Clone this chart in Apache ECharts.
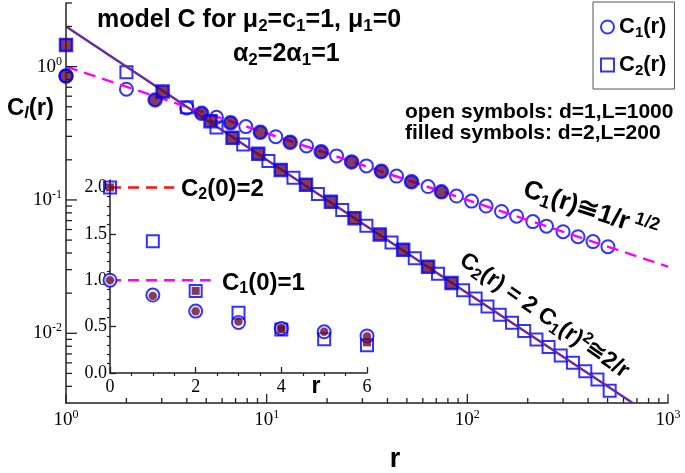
<!DOCTYPE html>
<html><head><meta charset="utf-8">
<script src="https://cdn.jsdelivr.net/npm/echarts@6/dist/echarts.min.js"></script>
<style>html,body{margin:0;padding:0;background:#fff}#c{width:685px;height:473px}</style>
</head><body><div id="c"></div>
<script>
// ---------------- data ----------------
// main plot axis limits and ticks
const xMin = 1, xMax = 1000, yMin = 0.003, yMax = 3;
const xMajorTicks = [1, 10, 100, 1000];
const xMinorTicks = [2,3,4,5,6,7,8,9,20,30,40,50,60,70,80,90,200,300,400,500,600,700,800,900];
const yMajorTicks = [0.01, 0.1, 1];
const yMinorTicks = [0.004,0.005,0.006,0.007,0.008,0.009,0.02,0.03,0.04,0.05,0.06,0.07,0.08,0.09,0.2,0.3,0.4,0.5,0.6,0.7,0.8,0.9,2,3];

// open circles: C1(r), d=1, L=1000
const c1OpenR = [1, 2, 4, 5.62, 7.87, 11.1, 15.8, 22.3, 31.4, 44.4, 63.7, 88.3, 105, 124, 148, 176, 212, 248, 300, 356, 423, 502];
const c1OpenC = [0.85, 0.677, 0.49, 0.417, 0.355, 0.298, 0.254, 0.214, 0.18, 0.151, 0.126, 0.107, 0.098, 0.090, 0.082, 0.0755, 0.0688, 0.0636, 0.0578, 0.053, 0.0487, 0.0446];
// filled circles: C1(r), d=2, L=200
const c1FillR = [1, 2.78, 4.74, 6.61, 9.3, 13.1, 18.7, 26.5, 37.3, 52.7, 74.3];
const c1FillC = [0.85, 0.563, 0.447, 0.38, 0.322, 0.271, 0.23, 0.193, 0.164, 0.137, 0.115];
// open squares: C2(r), d=1, L=1000
const c2OpenR = [2, 4, 5.62, 7.64, 10.2, 13.6, 18.0, 23.8, 31.4, 41.9, 54.7, 71.4, 95.3, 110, 126, 145, 167, 192, 221, 254, 292, 336, 387, 445, 512];
const c2OpenC = [0.908, 0.496, 0.35, 0.26, 0.196, 0.147, 0.111, 0.084, 0.064, 0.048, 0.0366, 0.028, 0.021, 0.0182, 0.0159, 0.0138, 0.012, 0.0104, 0.009, 0.0079, 0.0068, 0.006, 0.0052, 0.0045, 0.0037];
// filled squares: C2(r), d=2, L=200
const c2FillR = [1, 3.03, 5.25, 6.76, 9.08, 11.75, 15.7, 20.9, 27.4, 36.6, 47.9, 63.7, 83.4];
const c2FillC = [1.455, 0.65, 0.39, 0.293, 0.222, 0.168, 0.13, 0.097, 0.073, 0.055, 0.0423, 0.0316, 0.0238];
// guide lines (end points)
const fit1R = [1, 1000];  const fit1C = [1, 0.0316];   // C1 ~ 1/r^(1/2)
const fit2R = [1, 667];   const fit2C = [2, 0.003];    // C2 ~ 2/r

// inset (linear axes)
const insetXMax = 6, insetYMax = 2.08;
const insetXMajor = [0, 2, 4, 6];
const insetXMinor = [0.5,1,1.5,2.5,3,3.5,4.5,5,5.5];
const insetYMajor = [0, 0.5, 1, 1.5, 2];
const insetYMinor = [0.1,0.2,0.3,0.4,0.6,0.7,0.8,0.9,1.1,1.2,1.3,1.4,1.6,1.7,1.8,1.9];
const insetR = [0, 1, 2, 3, 4, 5, 6];
const insetC1Open = [1.0, 0.84, 0.667, 0.545, 0.48, 0.444, 0.40];
const insetC2Open = [2.0, 1.42, 0.885, 0.65, 0.47, 0.365, 0.30];
const insetC1Fill = [1.0, 0.83, 0.665, 0.555, 0.485, 0.445, 0.395];
const insetC2FillR = [0, 2, 4, 6];
const insetC2Fill = [2.0, 0.885, 0.47, 0.33];
const insetC2LineX = [0, 1.5];  const insetC2LineY = [2, 2];
const insetC1LineX = [0, 2.35]; const insetC1LineY = [1, 1];

// ---------------- styling ----------------
const BLUE = '#0000ff', MAROON = '#650a34', MAGENTA = '#ff00ff', PURPLE = '#6a2a9e',
      PURPLE_T = '#7a36b2', GREEN = '#1f9e1f', RED = '#ff1010', AX = '#222';
const SANS = 'Liberation Sans, Arial, Helvetica, sans-serif';
const SERIF = 'Liberation Serif, Times New Roman, serif';
const MAIN_GRID = {left: 66, top: 3, width: 602, height: 400};
const INSET_GRID = {left: 110, top: 180, width: 257, height: 193};

const zip = (a, b) => a.map((v, i) => [v, b[i]]);
const lg = v => Math.log10(v);

function rich(fs, color) {
  const base = {fontFamily: SANS, fontWeight: 'bold', color: color};
  const small = Math.round(fs * 0.68);
  return {
    a: Object.assign({}, base, {fontSize: fs}),
    s: Object.assign({}, base, {fontSize: small, padding: [Math.round(fs * 0.5), 0, 0, 0]}),
    i: Object.assign({}, base, {fontSize: small, fontStyle: 'italic', padding: [Math.round(fs * 0.5), 0, 0, 0]}),
    p: Object.assign({}, base, {fontSize: small, padding: [0, 0, Math.round(fs * 0.5), 0]})
  };
}
function txt(x, y, text, r, align, rotDeg) {
  return {type: 'text', x: x, y: y, z: 30, silent: true,
    rotation: (rotDeg || 0) * Math.PI / 180,
    style: {text: text, rich: r, align: align || 'left', verticalAlign: 'middle'}};
}
const powRich = {
  b: {fontFamily: SERIF, fontSize: 19, color: '#000'},
  e: {fontFamily: SERIF, fontSize: 12, color: '#000', padding: [0, 0, 10, 0]}
};
function powLabel(v) {
  const l = Math.log10(v), n = Math.round(l);
  if (Math.abs(l - n) > 1e-6) return '';
  return '{b|10}{e|' + n + '}';
}

const texts = [
  txt(97, 20, '{a|model C for μ}{s|2}{a|=c}{s|1}{a|=1, μ}{s|1}{a|=0}', rich(25, '#000')),
  txt(233, 54, '{a|α}{s|2}{a|=2α}{s|1}{a|=1}', rich(25, GREEN)),
  txt(405, 112, '{a|open symbols: d=1,L=1000}', rich(21, '#000')),
  txt(405, 133, '{a|filled symbols: d=2,L=200}', rich(21, '#000')),
  txt(7, 108, '{a|C}{i|l}{a|(r)}', rich(24, '#000')),
  txt(395, 460, '{a|r}', rich(27, '#000'), 'center'),
  txt(316, 387, '{a|r}', rich(23, '#000'), 'center'),
  txt(181, 189, '{a|C}{s|2}{a|(0)=2}', rich(24, RED)),
  txt(222, 283, '{a|C}{s|1}{a|(0)=1}', rich(24, MAGENTA)),
  txt(524, 189, '{a|C}{s|1}{a|(r)≅1/r}{p| 1/2}', rich(26, MAGENTA), 'left', -18),
  txt(462, 258, '{a|C}{s|2}{a|(r) = 2 C}{s|1}{a|(r)}{p|2}{a|≅2/r}', rich(23, PURPLE_T), 'left', -35)
];

const openStyle = {color: 'rgba(255,255,255,0)', borderColor: BLUE, borderWidth: 2};
const fillStyle = {color: MAROON, borderColor: BLUE, borderWidth: 2.5};

const chart = echarts.init(document.getElementById('c'), null, {renderer: 'canvas'});
chart.setOption({
  animation: false,
  backgroundColor: '#fff',
  textStyle: {fontFamily: SANS},
  grid: [Object.assign({}, MAIN_GRID), Object.assign({}, INSET_GRID)],
  xAxis: [
    {type: 'log', logBase: 10, gridIndex: 0, min: xMin, max: xMax, position: 'bottom',
     axisLine: {show: true, onZero: false, lineStyle: {color: AX, width: 1.5}},
     axisTick: {show: false}, splitLine: {show: false},
     axisLabel: {margin: 6, formatter: powLabel, rich: powRich}},
    {type: 'value', gridIndex: 1, min: 0, max: insetXMax,
     axisLine: {show: true, onZero: false, lineStyle: {color: AX, width: 1.5}},
     axisTick: {show: true, inside: true, length: 6, customValues: insetXMajor, lineStyle: {color: AX, width: 1.3}},
     axisLabel: {customValues: insetXMajor, margin: 5, fontFamily: SERIF, fontSize: 18, color: '#000'},
     splitLine: {show: false}},
    {type: 'value', gridIndex: 1, min: 0, max: insetXMax,
     axisLine: {show: false}, axisLabel: {show: false}, splitLine: {show: false},
     axisTick: {show: true, inside: true, length: 3, customValues: insetXMinor, lineStyle: {color: AX, width: 1.2}}}
  ],
  yAxis: [
    {type: 'log', logBase: 10, gridIndex: 0, min: yMin, max: yMax, position: 'left',
     axisLine: {show: true, onZero: false, lineStyle: {color: AX, width: 1.5}},
     axisTick: {show: false}, splitLine: {show: false},
     axisLabel: {margin: 4, formatter: powLabel, rich: powRich}},
    {type: 'value', gridIndex: 1, min: 0, max: insetYMax,
     axisLine: {show: true, onZero: false, lineStyle: {color: AX, width: 1.5}},
     axisTick: {show: true, inside: true, length: 6, customValues: insetYMajor, lineStyle: {color: AX, width: 1.3}},
     axisLabel: {customValues: insetYMajor, margin: 3, fontFamily: SERIF, fontSize: 18, color: '#000',
                 formatter: v => v.toFixed(1)},
     splitLine: {show: false}},
    {type: 'value', gridIndex: 1, min: 0, max: insetYMax,
     axisLine: {show: false}, axisLabel: {show: false}, splitLine: {show: false},
     axisTick: {show: true, inside: true, length: 3, customValues: insetYMinor, lineStyle: {color: AX, width: 1.2}}}
  ],
  legend: {
    left: 593, top: 2, orient: 'vertical', selectedMode: false,
    padding: [14, 8, 11, 7], itemGap: 14, itemWidth: 13, itemHeight: 13,
    borderColor: '#555', borderWidth: 1, backgroundColor: '#fff',
    data: [
      {name: 'C1(r)', icon: 'circle', itemStyle: {color: '#fff', borderColor: BLUE, borderWidth: 2}},
      {name: 'C2(r)', icon: 'rect', itemStyle: {color: '#fff', borderColor: BLUE, borderWidth: 2}}
    ],
    formatter: name => name === 'C1(r)' ? '{a|C}{s|1}{a|(r)}' : '{a|C}{s|2}{a|(r)}',
    textStyle: {rich: rich(22, '#000')}
  },
  series: [
    // open symbols
    {type: 'scatter', name: 'C1(r)', xAxisIndex: 0, yAxisIndex: 0, data: zip(c1OpenR, c1OpenC),
     symbol: 'circle', symbolSize: 13, itemStyle: openStyle, z: 2, silent: true},
    {type: 'scatter', name: 'C2(r)', xAxisIndex: 0, yAxisIndex: 0, data: zip(c2OpenR, c2OpenC),
     symbol: 'rect', symbolSize: 12, itemStyle: openStyle, z: 2, silent: true},
    // guide lines
    {type: 'line', name: 'fit1', xAxisIndex: 0, yAxisIndex: 0, data: zip(fit1R, fit1C), symbol: 'none',
     lineStyle: {color: MAGENTA, width: 2.5, type: [12, 7]}, z: 3, silent: true},
    {type: 'line', name: 'fit2', xAxisIndex: 0, yAxisIndex: 0, data: zip(fit2R, fit2C), symbol: 'none',
     lineStyle: {color: PURPLE, width: 2.5}, z: 3, silent: true},
    // filled symbols
    {type: 'scatter', name: 'C1 d2', xAxisIndex: 0, yAxisIndex: 0, data: zip(c1FillR, c1FillC),
     symbol: 'circle', symbolSize: 13, itemStyle: fillStyle, z: 4, silent: true},
    {type: 'scatter', name: 'C2 d2', xAxisIndex: 0, yAxisIndex: 0, data: zip(c2FillR, c2FillC),
     symbol: 'rect', symbolSize: 12, itemStyle: fillStyle, z: 4, silent: true},
    // inset
    {type: 'line', name: 'insC2line', xAxisIndex: 1, yAxisIndex: 1, data: zip(insetC2LineX, insetC2LineY), symbol: 'none',
     lineStyle: {color: RED, width: 2.5, type: [11, 7]}, z: 3, silent: true, clip: false},
    {type: 'line', name: 'insC1line', xAxisIndex: 1, yAxisIndex: 1, data: zip(insetC1LineX, insetC1LineY), symbol: 'none',
     lineStyle: {color: MAGENTA, width: 2.5, type: [11, 7]}, z: 3, silent: true, clip: false},
    {type: 'scatter', name: 'insC1o', xAxisIndex: 1, yAxisIndex: 1, data: zip(insetR, insetC1Open),
     symbol: 'circle', symbolSize: 13, itemStyle: {color: '#fff', borderColor: BLUE, borderWidth: 2}, z: 4, silent: true, clip: false},
    {type: 'scatter', name: 'insC2o', xAxisIndex: 1, yAxisIndex: 1, data: zip(insetR, insetC2Open),
     symbol: 'rect', symbolSize: 12, itemStyle: {color: 'rgba(255,255,255,0)', borderColor: BLUE, borderWidth: 2}, z: 4, silent: true, clip: false},
    {type: 'scatter', name: 'insC1f', xAxisIndex: 1, yAxisIndex: 1, data: zip(insetR, insetC1Fill),
     symbol: 'circle', symbolSize: 9, itemStyle: {color: MAROON, borderColor: '#f0dce6', borderWidth: 0.8}, z: 5, silent: true, clip: false},
    {type: 'scatter', name: 'insC2f', xAxisIndex: 1, yAxisIndex: 1, data: zip(insetC2FillR, insetC2Fill),
     symbol: 'rect', symbolSize: 8, itemStyle: {color: MAROON}, z: 5, silent: true, clip: false}
  ]
});

// ---- tick marks of the main log axes, placed with the axes' own value->pixel conversion ----
function axisPx(dim, v) {
  try {
    const p = chart.convertToPixel(dim === 'x' ? {xAxisIndex: 0} : {yAxisIndex: 0}, v);
    return (typeof p === 'number' && isFinite(p)) ? p : NaN;
  } catch (e) { return NaN; }
}
function makeConv() {
  const g = MAIN_GRID;
  const inputs = [v => v, v => Math.log10(v)];   // raw values, or values already in log space
  for (const f of inputs) {
    const x0 = axisPx('x', f(xMin)), x1 = axisPx('x', f(xMax));
    const y0 = axisPx('y', f(yMin)), y1 = axisPx('y', f(yMax));
    if ([x0, x1, y0, y1].every(isFinite) &&
        Math.abs(x0 - g.left) < 3 && Math.abs(x1 - (g.left + g.width)) < 3 &&
        Math.abs(y0 - (g.top + g.height)) < 3 && Math.abs(y1 - g.top) < 3) {
      return (dim, v) => axisPx(dim, f(v));
    }
  }
  // same logarithmic mapping as the axes, over the grid rectangle
  return (dim, v) => dim === 'x'
    ? g.left + g.width * (lg(v) - lg(xMin)) / (lg(xMax) - lg(xMin))
    : g.top + g.height - g.height * (lg(v) - lg(yMin)) / (lg(yMax) - lg(yMin));
}
const conv = makeConv();
function seg(x1, y1, x2, y2) {
  return {type: 'line', z: 25, silent: true, shape: {x1: x1, y1: y1, x2: x2, y2: y2},
          style: {stroke: AX, lineWidth: 1.3}};
}
const tickEls = [];
const xAxisY = conv('y', yMin), yAxisX = conv('x', xMin);
xMajorTicks.forEach(v => { const x = conv('x', v); tickEls.push(seg(x, xAxisY, x, xAxisY - 9)); });
xMinorTicks.forEach(v => { const x = conv('x', v); tickEls.push(seg(x, xAxisY, x, xAxisY - 5)); });
yMajorTicks.forEach(v => { const y = conv('y', v); tickEls.push(seg(yAxisX, y, yAxisX + 11, y)); });
yMinorTicks.forEach(v => { const y = conv('y', v); tickEls.push(seg(yAxisX, y, yAxisX + 6, y)); });

chart.setOption({graphic: texts.concat(tickEls)});
</script></body></html>
